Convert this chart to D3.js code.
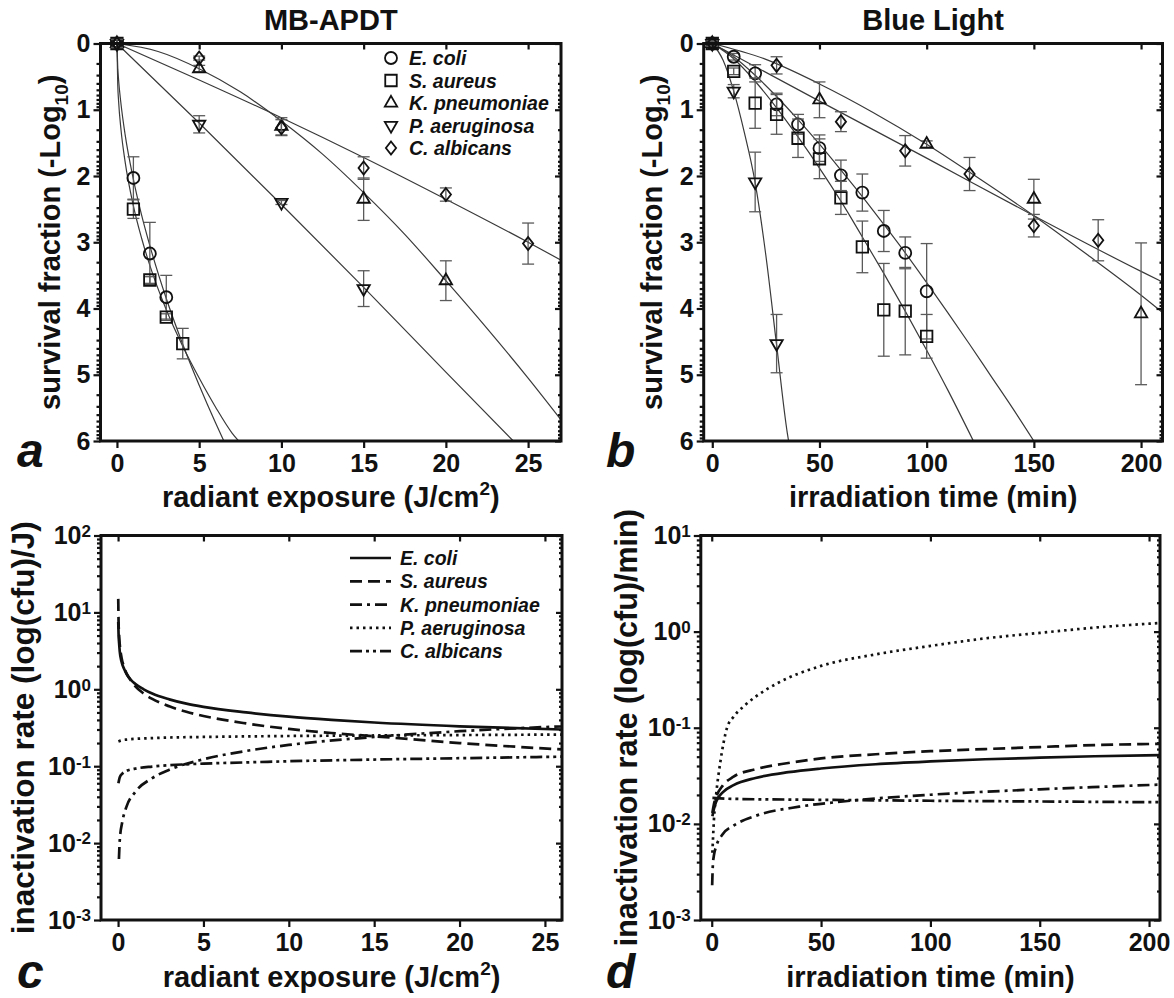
<!DOCTYPE html>
<html>
<head>
<meta charset="utf-8">
<script src="https://cdn.jsdelivr.net/npm/d3@7"></script>
<style>
body { margin: 0; background: #fff; }
</style>
</head>
<body>
<svg id="chart" width="1174" height="998"></svg>
<script>
var species = ["E. coli", "S. aureus", "K. pneumoniae", "P. aeruginosa", "C. albicans"];

// ---- a: MB-APDT, -log10 survival vs radiant exposure (J/cm2)
var apdtEcoliX = [0, 1, 2, 3];
var apdtEcoliY = [0, 2.03, 3.17, 3.83];
var apdtEcoliErr = [0.06, 0.32, 0.47, 0.33];
var apdtSaureusX = [0, 1, 2, 3, 4];
var apdtSaureusY = [0, 2.5, 3.57, 4.13, 4.53];
var apdtSaureusErr = [0.06, 0.14, 0.05, 0.05, 0.23];
var apdtKpneuX = [0, 5, 10, 15, 20];
var apdtKpneuY = [0, 0.38, 1.25, 2.35, 3.58];
var apdtKpneuErr = [0.06, 0.05, 0.13, 0.32, 0.3];
var apdtPaerX = [0, 5, 10, 15];
var apdtPaerY = [0, 1.22, 2.4, 3.7];
var apdtPaerErr = [0.06, 0.13, 0.03, 0.27];
var apdtCalbX = [0, 5, 10, 15, 20, 25];
var apdtCalbY = [0, 0.22, 1.27, 1.88, 2.28, 3.02];
var apdtCalbErr = [0.06, 0.03, 0.12, 0.17, 0.1, 0.31];

// fitted curves in a
var fitApdtEcoliX = [0, 0.05, 0.1, 0.25, 0.5, 1, 1.5, 2, 3, 4, 5, 6, 6.5];
var fitApdtEcoliY = [0, 0.37, 0.55, 0.92, 1.38, 2.05, 2.59, 3.05, 3.85, 4.54, 5.16, 5.73, 6.0];
var fitApdtSaureusX = [0, 0.05, 0.1, 0.25, 0.5, 1, 1.5, 2, 3, 4, 5, 6, 7, 7.4];
var fitApdtSaureusY = [0, 0.63, 0.87, 1.31, 1.79, 2.45, 2.94, 3.35, 4.02, 4.57, 5.05, 5.49, 5.88, 6.0];
var fitApdtKpneuX = [0, 2.5, 5, 7.5, 10, 12.5, 15, 17.5, 20, 22.5, 25, 27];
var fitApdtKpneuY = [0, 0.12, 0.38, 0.73, 1.17, 1.67, 2.25, 2.88, 3.58, 4.3, 5.05, 5.68];
var fitApdtPaerX = [0, 5, 10, 15, 20, 24.1];
var fitApdtPaerY = [0, 1.2, 2.43, 3.68, 4.96, 6.0];
var fitApdtCalbX = [0, 5, 10, 15, 20, 25, 27];
var fitApdtCalbY = [0, 0.55, 1.12, 1.72, 2.35, 3.0, 3.27];

// ---- b: blue light, -log10 survival vs time (min)
var blueEcoliX = [0, 10, 20, 30, 40, 50, 60, 70, 80, 90, 100];
var blueEcoliY = [0, 0.2, 0.45, 0.92, 1.22, 1.58, 1.99, 2.25, 2.83, 3.16, 3.74];
var blueEcoliErr = [0.04, 0.05, 0.13, 0.17, 0.15, 0.2, 0.23, 0.28, 0.31, 0.24, 0.72];
var blueSaureusX = [0, 10, 20, 30, 40, 50, 60, 70, 80, 90, 100];
var blueSaureusY = [0, 0.42, 0.9, 1.07, 1.43, 1.74, 2.33, 3.07, 4.02, 4.04, 4.42];
var blueSaureusErr = [0.04, 0.05, 0.38, 0.3, 0.29, 0.3, 0.25, 0.39, 0.7, 0.66, 0.33];
var blueKpneuX = [0, 50, 100, 150, 200];
var blueKpneuY = [0, 0.85, 1.52, 2.35, 4.08];
var blueKpneuErr = [0.04, 0.27, 0.05, 0.3, 1.07];
var bluePaerX = [0, 10, 20, 30];
var bluePaerY = [0, 0.72, 2.09, 4.53];
var bluePaerErr = [0.04, 0.1, 0.45, 0.44];
var blueCalbX = [0, 30, 60, 90, 120, 150, 180];
var blueCalbY = [0, 0.33, 1.18, 1.62, 1.97, 2.75, 2.97];
var blueCalbErr = [0.04, 0.13, 0.15, 0.23, 0.25, 0.17, 0.31];

var fitBlueEcoliX = [0, 10, 20, 30, 40, 50, 60, 70, 80, 90, 100, 110, 120, 130, 140, 150];
var fitBlueEcoliY = [0, 0.2, 0.48, 0.8, 1.15, 1.52, 1.91, 2.31, 2.73, 3.16, 3.61, 4.07, 4.54, 5.02, 5.5, 6.0];
var fitBlueSaureusX = [0, 10, 20, 30, 40, 50, 60, 70, 80, 90, 100, 110, 121.8];
var fitBlueSaureusY = [0, 0.23, 0.57, 0.97, 1.41, 1.88, 2.38, 2.92, 3.47, 4.04, 4.63, 5.24, 6.0];
var fitBlueKpneuX = [0, 25, 50, 75, 100, 125, 150, 175, 200, 210];
var fitBlueKpneuY = [0, 0.24, 0.61, 1.04, 1.52, 2.05, 2.6, 3.19, 3.8, 4.06];
var fitBluePaerX = [0, 5, 10, 15, 20, 25, 30, 35, 35.6];
var fitBluePaerY = [0, 0.25, 0.72, 1.35, 2.1, 3.2, 4.55, 5.88, 6.0];
var fitBlueCalbX = [0, 50, 100, 150, 200, 210];
var fitBlueCalbY = [0, 0.87, 1.73, 2.6, 3.44, 3.6];

// ---- c: inactivation rate, MB-APDT (log(cfu)/J)
var rateEcoliX = [0.01, 0.03, 0.06, 0.1, 0.2, 0.35, 0.5, 0.75, 1, 1.5, 2, 3, 4, 5, 7.5, 10, 12.5, 15, 20, 26];
var rateEcoliY = [7.5, 5.2, 4.0, 3.1, 2.3, 1.85, 1.58, 1.33, 1.18, 1.0, 0.88, 0.74, 0.65, 0.59, 0.5, 0.44, 0.4, 0.37, 0.33, 0.3];
var rateSaureusX = [0.01, 0.03, 0.06, 0.1, 0.2, 0.35, 0.5, 0.75, 1, 1.5, 2, 3, 4, 5, 7.5, 10, 12.5, 15, 20, 26];
var rateSaureusY = [15, 7.5, 5.1, 3.8, 2.6, 1.95, 1.6, 1.3, 1.1, 0.88, 0.75, 0.6, 0.51, 0.45, 0.36, 0.305, 0.27, 0.245, 0.2, 0.165];
var rateKpneuX = [0.05, 0.1, 0.25, 0.5, 1, 2, 3, 5, 7.5, 10, 15, 20, 26];
var rateKpneuY = [0.0062, 0.011, 0.019, 0.03, 0.046, 0.07, 0.09, 0.123, 0.158, 0.189, 0.24, 0.285, 0.33];
var ratePaerX = [0.02, 0.25, 0.5, 1, 2, 3, 5, 7.5, 10, 15, 20, 26];
var ratePaerY = [0.21, 0.218, 0.222, 0.227, 0.232, 0.236, 0.24, 0.244, 0.247, 0.251, 0.254, 0.258];
var rateCalbX = [0.02, 0.1, 0.25, 0.5, 1, 2, 3, 5, 7.5, 10, 15, 20, 26];
var rateCalbY = [0.06, 0.072, 0.08, 0.087, 0.093, 0.099, 0.103, 0.108, 0.112, 0.116, 0.122, 0.127, 0.133];

// ---- d: inactivation rate, blue light (log(cfu)/min)
var blueRateEcoliX = [0.3, 1, 2, 5, 10, 20, 35, 50, 75, 100, 125, 150, 175, 205];
var blueRateEcoliY = [0.012, 0.0143, 0.017, 0.0213, 0.0253, 0.03, 0.0345, 0.0377, 0.0417, 0.0446, 0.047, 0.0488, 0.0505, 0.052];
var blueRateSaureusX = [0.3, 1, 2, 5, 10, 20, 35, 50, 75, 100, 125, 150, 175, 205];
var blueRateSaureusY = [0.013, 0.016, 0.019, 0.025, 0.031, 0.037, 0.043, 0.048, 0.053, 0.057, 0.06, 0.063, 0.066, 0.068];
var blueRateKpneuX = [0.2, 0.5, 1, 2, 5, 10, 20, 40, 60, 100, 150, 205];
var blueRateKpneuY = [0.0023, 0.0037, 0.0047, 0.0058, 0.0078, 0.0096, 0.0121, 0.0151, 0.0171, 0.0201, 0.0229, 0.0256];
var blueRatePaerX = [0.3, 1, 2, 4, 7, 10, 15, 20, 30, 50, 75, 100, 125, 150, 175, 205];
var blueRatePaerY = [0.005, 0.011, 0.02, 0.045, 0.1, 0.13, 0.17, 0.21, 0.29, 0.44, 0.58, 0.71, 0.85, 0.97, 1.1, 1.23];
var blueRateCalbX = [0.3, 10, 50, 100, 150, 205];
var blueRateCalbY = [0.0186, 0.0182, 0.0178, 0.0174, 0.0171, 0.0168];

var survivalTicks = [0, 1, 2, 3, 4, 5, 6];
var apdtTicks = [0, 5, 10, 15, 20, 25];
var blueTicks = [0, 50, 100, 150, 200];

var FONT = '"Liberation Sans", Arial, Helvetica, sans-serif';
var INK = "#111";

function zipPts(xs, ys, es) {
	return xs.map(function(v, i) { return {x: v, y: ys[i], e: es ? es[i] : 0}; });
}

var svg = d3.select("#chart");
var defs = svg.append("defs");

// marker shapes
var diamond = {
	draw: function(ctx, size) {
		var h = Math.sqrt(size) * 0.62, w = h * 0.78;
		ctx.moveTo(0, -h); ctx.lineTo(w, 0); ctx.lineTo(0, h); ctx.lineTo(-w, 0); ctx.closePath();
	}
};
var shapes = [
	{type: d3.symbolCircle, size: 113, rot: 0},
	{type: d3.symbolSquare, size: 132, rot: 0},
	{type: d3.symbolTriangle, size: 66, rot: 0},
	{type: d3.symbolTriangle, size: 66, rot: 180},
	{type: diamond, size: 112, rot: 0}
];
var dashes = [null, "12,6", "12,5,3,5", "2.5,4", "12,4,3,4,3,4"];

function txt(g, x, y, size, opts) {
	opts = opts || {};
	return g.append("text")
		.attr("x", x).attr("y", y)
		.attr("font-family", FONT)
		.attr("font-weight", "bold")
		.attr("font-style", opts.italic ? "italic" : "normal")
		.attr("font-size", size)
		.attr("text-anchor", opts.anchor || "start")
		.attr("fill", INK);
}

function drawAxes(g, box, x, y, xTicks, yMajor, yMinor, yFormat) {
	g.append("g").attr("transform", "translate(0," + box.y1 + ")")
		.call(d3.axisBottom(x).tickValues(xTicks).tickSize(7).tickPadding(6).tickSizeOuter(0));
	g.append("g").attr("transform", "translate(0," + box.y0 + ")")
		.call(d3.axisBottom(x).tickValues(xTicks).tickSize(6).tickSizeOuter(0).tickFormat(""));
	g.append("g").attr("class", "yleft").attr("transform", "translate(" + box.x0 + ",0)")
		.call(d3.axisLeft(y).tickValues(yMajor).tickSize(7).tickPadding(3).tickSizeOuter(0).tickFormat(yFormat));
	g.append("g").attr("transform", "translate(" + box.x0 + ",0)")
		.call(d3.axisLeft(y).tickValues(yMinor).tickSize(4).tickSizeOuter(0).tickFormat(""));
	g.append("g").attr("transform", "translate(" + box.x1 + ",0)")
		.call(d3.axisLeft(y).tickValues(yMajor).tickSize(6).tickSizeOuter(0).tickFormat(""));
	g.append("g").attr("transform", "translate(" + box.x1 + ",0)")
		.call(d3.axisLeft(y).tickValues(yMinor).tickSize(3).tickSizeOuter(0).tickFormat(""));
	g.selectAll(".domain").remove();
	g.selectAll(".tick line").attr("stroke", INK).attr("stroke-width", 2.2);
	g.selectAll(".tick text")
		.attr("font-family", FONT).attr("font-weight", "bold")
		.attr("font-size", 25).attr("fill", INK);
	g.append("rect")
		.attr("x", box.x0).attr("y", box.y0)
		.attr("width", box.x1 - box.x0).attr("height", box.y1 - box.y0)
		.attr("fill", "none").attr("stroke", INK).attr("stroke-width", 3);
}

function clipFor(id, box) {
	defs.append("clipPath").attr("id", id).append("rect")
		.attr("x", box.x0).attr("y", box.y0)
		.attr("width", box.x1 - box.x0).attr("height", box.y1 - box.y0);
	return "url(#" + id + ")";
}

function survivalPanel(id, box, xDomain, xTicks, points, fits) {
	var g = svg.append("g");
	var x = d3.scaleLinear().domain(xDomain).range([box.x0, box.x1]);
	var y = d3.scaleLinear().domain([0, 6]).range([box.y0, box.y1]);
	var minor = [];
	for (var n = 0; n < 6; ++n)
		for (var k = 2; k < 10; ++k) minor.push(n + Math.log10(k));

	var clip = clipFor(id, box);
	var line = d3.line()
		.x(function(d) { return x(d.x); })
		.y(function(d) { return y(d.y); })
		.curve(d3.curveMonotoneX);

	g.append("g").attr("clip-path", clip)
		.selectAll("path").data(fits).enter().append("path")
		.attr("d", line)
		.attr("fill", "none").attr("stroke", "#3a3a3a").attr("stroke-width", 1.2);

	points.forEach(function(ser, s) {
		var eg = g.append("g").attr("stroke", "#5a5a5a").attr("stroke-width", 1.3);
		ser.forEach(function(p) {
			if (!p.e) return;
			var xa = x(p.x), ya = y(p.y - p.e), yb = y(p.y + p.e);
			eg.append("line").attr("x1", xa).attr("x2", xa).attr("y1", ya).attr("y2", yb);
			eg.append("line").attr("x1", xa - 6).attr("x2", xa + 6).attr("y1", ya).attr("y2", ya);
			eg.append("line").attr("x1", xa - 6).attr("x2", xa + 6).attr("y1", yb).attr("y2", yb);
		});
		var sh = shapes[s];
		g.append("g").selectAll("path").data(ser).enter().append("path")
			.attr("d", d3.symbol().type(sh.type).size(sh.size))
			.attr("transform", function(d) {
				return "translate(" + x(d.x) + "," + y(d.y) + ") rotate(" + sh.rot + ")";
			})
			.attr("fill", "none").attr("stroke", INK).attr("stroke-width", 1.8);
	});

	drawAxes(g, box, x, y, xTicks, survivalTicks, minor, d3.format("d"));
	return g;
}

function ratePanel(id, box, xDomain, xTicks, yDomain, curves) {
	var g = svg.append("g");
	var x = d3.scaleLinear().domain(xDomain).range([box.x0, box.x1]);
	var y = d3.scaleLog().domain(yDomain).range([box.y1, box.y0]);
	var lo = Math.round(Math.log10(yDomain[0])), hi = Math.round(Math.log10(yDomain[1]));
	var major = [], minor = [];
	for (var n = lo; n <= hi; ++n) {
		major.push(Math.pow(10, n));
		if (n < hi) for (var k = 2; k < 10; ++k) minor.push(k * Math.pow(10, n));
	}
	var clip = clipFor(id, box);
	var line = d3.line()
		.x(function(d) { return x(d.x); })
		.y(function(d) { return y(d.y); })
		.curve(d3.curveMonotoneX);
	g.append("g").attr("clip-path", clip)
		.selectAll("path").data(curves).enter().append("path")
		.attr("d", line)
		.attr("fill", "none").attr("stroke", INK).attr("stroke-width", 2.7)
		.attr("stroke-dasharray", function(d, i) { return dashes[i]; });

	drawAxes(g, box, x, y, xTicks, major, minor, function() { return ""; });
	g.select(".yleft").selectAll(".tick text").each(function(d) {
		var t = d3.select(this);
		t.append("tspan").text("10");
		t.append("tspan").attr("dy", "-0.42em").attr("font-size", 17)
			.text(String(Math.round(Math.log10(d))));
	});
	return g;
}

// panel boxes
var boxA = {x0: 100.5, x1: 561, y0: 43.5, y1: 441};
var boxB = {x0: 703.7, x1: 1162.5, y0: 43.5, y1: 441};
var boxC = {x0: 101, x1: 562, y0: 535.5, y1: 920};
var boxD = {x0: 700.8, x1: 1160, y0: 535.5, y1: 920};

survivalPanel("clipA", boxA, [-1, 27], apdtTicks,
	[zipPts(apdtEcoliX, apdtEcoliY, apdtEcoliErr), zipPts(apdtSaureusX, apdtSaureusY, apdtSaureusErr),
	 zipPts(apdtKpneuX, apdtKpneuY, apdtKpneuErr), zipPts(apdtPaerX, apdtPaerY, apdtPaerErr),
	 zipPts(apdtCalbX, apdtCalbY, apdtCalbErr)],
	[zipPts(fitApdtEcoliX, fitApdtEcoliY), zipPts(fitApdtSaureusX, fitApdtSaureusY),
	 zipPts(fitApdtKpneuX, fitApdtKpneuY), zipPts(fitApdtPaerX, fitApdtPaerY),
	 zipPts(fitApdtCalbX, fitApdtCalbY)]);

survivalPanel("clipB", boxB, [-4, 210], blueTicks,
	[zipPts(blueEcoliX, blueEcoliY, blueEcoliErr), zipPts(blueSaureusX, blueSaureusY, blueSaureusErr),
	 zipPts(blueKpneuX, blueKpneuY, blueKpneuErr), zipPts(bluePaerX, bluePaerY, bluePaerErr),
	 zipPts(blueCalbX, blueCalbY, blueCalbErr)],
	[zipPts(fitBlueEcoliX, fitBlueEcoliY), zipPts(fitBlueSaureusX, fitBlueSaureusY),
	 zipPts(fitBlueKpneuX, fitBlueKpneuY), zipPts(fitBluePaerX, fitBluePaerY),
	 zipPts(fitBlueCalbX, fitBlueCalbY)]);

ratePanel("clipC", boxC, [-1, 26], apdtTicks, [1e-3, 1e2],
	[zipPts(rateEcoliX, rateEcoliY), zipPts(rateSaureusX, rateSaureusY),
	 zipPts(rateKpneuX, rateKpneuY), zipPts(ratePaerX, ratePaerY), zipPts(rateCalbX, rateCalbY)]);

ratePanel("clipD", boxD, [-5, 205], blueTicks, [1e-3, 1e1],
	[zipPts(blueRateEcoliX, blueRateEcoliY), zipPts(blueRateSaureusX, blueRateSaureusY),
	 zipPts(blueRateKpneuX, blueRateKpneuY), zipPts(blueRatePaerX, blueRatePaerY),
	 zipPts(blueRateCalbX, blueRateCalbY)]);

// legends
var legA = svg.append("g");
species.forEach(function(name, i) {
	var yy = 58 + i * 22.5;
	var sh = shapes[i];
	legA.append("path")
		.attr("d", d3.symbol().type(sh.type).size(sh.size))
		.attr("transform", "translate(391," + yy + ") rotate(" + sh.rot + ")")
		.attr("fill", "none").attr("stroke", INK).attr("stroke-width", 1.8);
	txt(legA, 409, yy + 7, 19.5, {italic: true}).text(name);
});
var legC = svg.append("g");
species.forEach(function(name, i) {
	var yy = 558 + i * 23.3;
	legC.append("line").attr("x1", 350).attr("x2", 391).attr("y1", yy).attr("y2", yy)
		.attr("stroke", INK).attr("stroke-width", 2.7)
		.attr("stroke-dasharray", dashes[i]);
	txt(legC, 400, yy + 7, 19.5, {italic: true}).text(name);
});

// titles, axis titles, panel letters
txt(svg, (boxA.x0 + boxA.x1) / 2, 30, 29, {anchor: "middle"}).text("MB-APDT");
txt(svg, (boxB.x0 + boxB.x1) / 2, 30, 29, {anchor: "middle"}).text("Blue Light");

function xTitle(cx, base, label, sup) {
	var t = txt(svg, cx, base, 29, {anchor: "middle"});
	t.append("tspan").text(label);
	if (sup) {
		t.append("tspan").attr("dy", -12).attr("font-size", 19).text(sup);
		t.append("tspan").attr("dy", 12).text(")");
	}
}
xTitle((boxA.x0 + boxA.x1) / 2, 507, "radiant exposure (J/cm", "2");
xTitle((boxB.x0 + boxB.x1) / 2, 507, "irradiation time (min)");
xTitle((boxC.x0 + boxC.x1) / 2, 987, "radiant exposure (J/cm", "2");
xTitle((boxD.x0 + boxD.x1) / 2, 987, "irradiation time (min)");

function yTitle(bx, cy, size, label, sub, tail) {
	var t = txt(svg, 0, 0, size, {anchor: "middle"})
		.attr("transform", "translate(" + bx + "," + cy + ") rotate(-90)");
	t.append("tspan").text(label);
	if (sub) {
		t.append("tspan").attr("dy", 8).attr("font-size", 19).text(sub);
		t.append("tspan").attr("dy", -8).text(tail);
	}
}
yTitle(60, (boxA.y0 + boxA.y1) / 2, 29, "survival fraction (-Log", "10", ")");
yTitle(662, (boxB.y0 + boxB.y1) / 2, 29, "survival fraction (-Log", "10", ")");
yTitle(34, (boxC.y0 + boxC.y1) / 2, 31.5, "inactivation rate (log(cfu)/J)");
yTitle(637, (boxD.y0 + boxD.y1) / 2, 30.5, "inactivation rate (log(cfu)/min)");

txt(svg, 17, 467, 48, {italic: true}).text("a");
txt(svg, 606, 467, 48, {italic: true}).text("b");
txt(svg, 17, 988, 48, {italic: true}).text("c");
txt(svg, 606, 988, 48, {italic: true}).text("d");
</script>
</body>
</html>
